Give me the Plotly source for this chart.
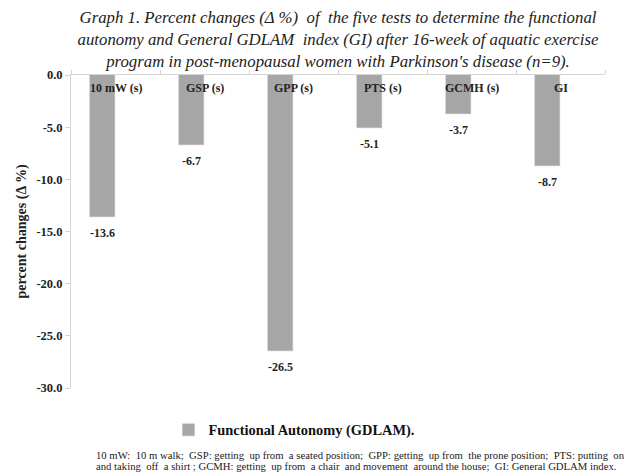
import plotly.graph_objects as go

categories = ["10 mW (s)", "GSP (s)", "GPP (s)", "PTS (s)", "GCMH (s)", "GI"]
values = [-13.6, -6.7, -26.5, -5.1, -3.7, -8.7]
value_labels = ["-13.6", "-6.7", "-26.5", "-5.1", "-3.7", "-8.7"]
y_tickvals = [0, -5, -10, -15, -20, -25, -30]
y_ticktext = ["0.0", "-5.0", "-10.0", "-15.0", "-20.0", "-25.0", "-30.0"]
series_name = "Functional Autonomy (GDLAM)."
title_text = ("<i>Graph 1. Percent changes (Δ %)  of  the five tests to determine the functional<br>"
              "autonomy and General GDLAM  index (GI) after 16-week of aquatic exercise<br>"
              "program in post-menopausal women with Parkinson's disease (n=9).</i>")
footnote_1 = "10 mW:  10 m walk;  GSP: getting  up from  a seated position;  GPP: getting  up from  the prone position;  PTS: putting  on"
footnote_2 = "and taking  off  a shirt ; GCMH: getting  up from  a chair  and movement  around the house;  GI: General GDLAM index."

FONT = "Liberation Serif, Times New Roman, serif"
BAR = "#a6a6a6"
AX = "#d4d4d4"

# the page body has an 8px margin; work in page pixels and subtract it
OFF = 8
W, H = 634 - OFF, 473 - OFF
PL, PR, PT, PB = 71 - OFF, 605 - OFF, 75 - OFF, 388 - OFF


def px_x(px):
    return (px - OFF - PL) / (PR - PL)


def px_y(py):
    return (PB - (py - OFF)) / (PB - PT)


fig = go.Figure()
fig.add_trace(go.Bar(
    x=categories, y=values, name="<b>" + series_name + "</b>",
    marker=dict(color=BAR, line=dict(color="#b8b8b8", width=0.5)),
    width=0.28, offset=-0.29,
    showlegend=True,
))

# value labels under each bar
for c, v, t in zip(categories, values, value_labels):
    fig.add_annotation(x=c, y=v, text="<b>%s</b>" % t, showarrow=False,
                       xshift=-13, yshift=-16, yanchor="middle",
                       font=dict(family=FONT, size=12, color="#222"))

# category labels inside the top of the plot
for c in categories:
    fig.add_annotation(x=c, y=0, text="<b>%s</b>" % c, showarrow=False,
                       yshift=-13, yanchor="middle",
                       font=dict(family=FONT, size=12, color="#222"))

for txt, ypx in [(footnote_1, 455), (footnote_2, 466)]:
    fig.add_annotation(x=px_x(95), y=px_y(ypx), xref="paper", yref="paper",
                       xanchor="left", yanchor="middle", text=txt, showarrow=False,
                       borderpad=0,
                       font=dict(family=FONT, size=10.7, color="#222"))

fig.update_layout(
    width=W, height=H,
    margin=dict(l=PL, r=W - PR, t=PT, b=H - PB, autoexpand=False),
    paper_bgcolor="white", plot_bgcolor="white",
    font=dict(family=FONT, color="#222"),
    title=dict(text=title_text, x=(PL + PR) / 2 / W, xanchor="center",
               y=1 - 15 / H, yanchor="top", yref="container",
               font=dict(family=FONT, size=16.8, color="#222")),
    showlegend=True,
    legend=dict(orientation="h", x=px_x(294), xanchor="center",
                y=px_y(430), yanchor="middle",
                font=dict(family=FONT, size=14.4, color="#111"),
                itemwidth=30),
    bargap=0,
)

fig.update_xaxes(
    type="category", categoryorder="array", categoryarray=categories,
    side="top", showline=True, linecolor=AX, linewidth=1,
    ticks="outside", ticklen=4, tickcolor=AX, tickson="boundaries",
    showticklabels=False,
    showgrid=False, zeroline=False,
    range=[-0.5, 5.5],
)
fig.update_yaxes(
    range=[-30, 0], tickvals=y_tickvals, ticktext=["<b>%s</b>" % s for s in y_ticktext],
    showline=True, linecolor=AX, linewidth=1,
    ticks="outside", ticklen=5, tickcolor=AX,
    tickfont=dict(family=FONT, size=12.5, color="#222"),
    showgrid=False, zeroline=False,
    title=dict(text="<b>percent changes (Δ %)</b>", standoff=6,
               font=dict(family=FONT, size=14, color="#222")),
)

fig.write_html("out.html")
